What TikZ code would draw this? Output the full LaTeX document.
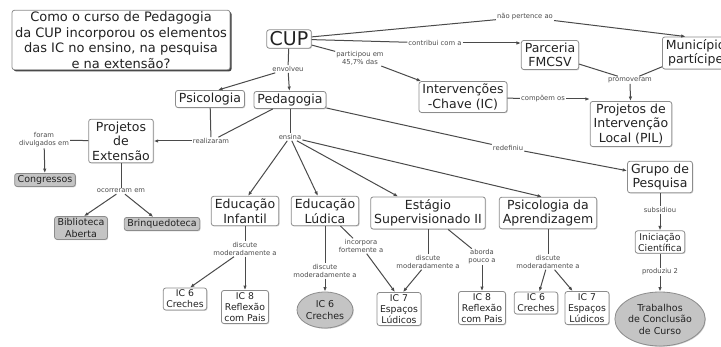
\documentclass[tikz,border=0pt]{standalone}
\usepackage{fontspec}
\setmainfont{DejaVu Sans}
\usetikzlibrary{arrows.meta,shapes.geometric,shadows}
\definecolor{bord}{HTML}{8C8C8C}
\definecolor{txt}{HTML}{222222}
\definecolor{lnc}{HTML}{4A4A4A}
\definecolor{gfill}{HTML}{C4C4C4}
\tikzset{
  base/.style={draw=bord, line width=0.8pt, rounded corners=2.5pt, fill=white, align=center, text=txt,
    drop shadow={shadow xshift=0.8pt, shadow yshift=-0.8pt, fill=black!30, opacity=0.6}},
  box/.style={base, font=\fontsize{12.5}{14.5}\selectfont, inner xsep=3.5pt, inner ysep=2.5pt},
  qbox/.style={base, font=\fontsize{13}{15.5}\selectfont, inner xsep=3pt, inner ysep=1.5pt,
    drop shadow={shadow xshift=1.6pt, shadow yshift=-1.6pt, fill=black!75, opacity=1}},
  cupbox/.style={base, font=\fontsize{19}{21}\selectfont, inner xsep=3pt, inner ysep=2pt},
  sbox/.style={base, font=\fontsize{9.3}{11}\selectfont, inner xsep=3pt, inner ysep=2pt},
  gbox/.style={sbox, fill=gfill, font=\fontsize{9.5}{11.5}\selectfont},
  gell/.style={draw=bord, line width=0.8pt, fill=gfill, ellipse, align=center, text=txt, inner sep=0pt,
    font=\fontsize{9.5}{11.5}\selectfont,
    drop shadow={shadow xshift=0.8pt, shadow yshift=-0.8pt, fill=black!30, opacity=0.6}},
  lab/.style={font=\fontsize{6.8}{7.8}\selectfont, text=black!70, fill=white, inner sep=1pt, align=center},
  ln/.style={draw=lnc, line width=1pt},
  arr/.style={ln, -{Latex[length=4.5pt,width=3.5pt]}},
}
\begin{document}
\begin{tikzpicture}[x=1pt,y=-1pt]
\useasboundingbox (0,0) rectangle (721,347);
% nodes
\node[qbox] (q) at (121,40) {Como o curso de Pedagogia\\da CUP incorporou os elementos\\das IC no ensino, na pesquisa\\e na extensão?};
\node[cupbox] (cup) at (289,39) {CUP};
\node[box] (psi) at (210,99) {Psicologia};
\node[box] (ped) at (290,100) {Pedagogia};
\node[box] (ic) at (463,97) {Intervenções\\-Chave (IC)};
\node[box] (fmc) at (550,55) {Parceria\\FMCSV};
\node[box, anchor=west] (mun) at (662,53) {Município\\partícipe};
\node[box] (pil) at (631,124) {Projetos de\\Intervenção\\Local (PIL)};
\node[box] (pe) at (121,141) {Projetos\\de\\Extensão};
\node[gbox] (cong) at (45,180) {Congressos};
\node[gbox] (bib) at (81,228) {Biblioteca\\Aberta};
\node[gbox] (brq) at (162,224) {Brinquedoteca};
\node[box] (gp) at (660,177) {Grupo de\\Pesquisa};
\node[sbox] (inic) at (660,242) {Iniciação\\Científica};
\node[gell, minimum width=90pt, minimum height=54pt] (tcc) at (660,319) {Trabalhos\\de Conclusão\\de Curso};
\node[box] (ei) at (245,211) {Educação\\Infantil};
\node[box] (el) at (325,211) {Educação\\Lúdica};
\node[box] (es) at (428,213) {Estágio\\Supervisionado II};
\node[box] (pa) at (548,213) {Psicologia da\\Aprendizagem};
\node[sbox] (a1) at (185,299) {IC 6\\Creches};
\node[sbox] (a2) at (245,307) {IC 8\\Reflexão\\com Pais};
\node[gell, minimum width=56pt, minimum height=36pt] (b1) at (325,310) {IC 6\\Creches};
\node[sbox] (c1) at (399,309) {IC 7\\Espaços\\Lúdicos};
\node[sbox] (c2) at (482,308) {IC 8\\Reflexão\\com Pais};
\node[sbox] (d1) at (536,303) {IC 6\\Creches};
\node[sbox] (d2) at (587,308) {IC 7\\Espaços\\Lúdicos};
% labels
\node[lab] (l1) at (525,17) {não pertence ao};
\node[lab] (l2) at (435,43) {contribui com a};
\node[lab] (l3) at (360,58) {participou em\\45,7\% das};
\node[lab] (l4) at (288,69) {envolveu};
\node[lab] (l5) at (630,80) {promoveram};
\node[lab] (l6) at (543,99) {compõem os};
\node[lab] (l7) at (211,141) {realizaram};
\node[lab] (l8) at (290,137) {ensina};
\node[lab] (l9) at (508,148) {redefiniu};
\node[lab] (l10) at (44,140) {foram\\divulgados em};
\node[lab] (l11) at (121,191) {ocorreram em};
\node[lab] (l12) at (660,210) {subsidiou};
\node[lab] (l13) at (660,272) {produziu 2};
\node[lab] (l14) at (245,249) {discute\\moderadamente a};
\node[lab] (l15) at (325,271) {discute\\moderadamente a};
\node[lab] (l16) at (361,246) {incorpora\\fortemente a};
\node[lab] (l17) at (428,262) {discute\\moderadamente a};
\node[lab] (l18) at (482,257) {aborda\\pouco a};
\node[lab] (l19) at (548,262) {discute\\moderadamente a};
% connectors
\draw[ln] (cup) -- (l1);
\draw[arr] (l1) -- ([xshift=-10pt]mun.north);
\draw[ln] (cup) -- (l2);
\draw[arr] (l2) -- (fmc.west |- l2);
\draw[ln] (cup) -- (l3);
\draw[arr] (l3) -- (ic);
\draw[ln] (cup) -- (l4);
\draw[arr] (l4) -- (ped);
\draw[arr] (l4) -- ([xshift=8pt]psi.north);
\draw[ln] (fmc) -- (l5);
\draw[ln] (mun) -- (l5);
\draw[arr] (l5) -- (pil);
\draw[ln] (ic) -- (l6);
\draw[arr] (l6) -- (pil.west |- l6);
\draw[ln] (psi) -- (l7);
\draw[ln] (ped) -- (l7);
\draw[arr] (l7) -- (pe);
\draw[ln] (ped) -- (l8);
\draw[arr] (l8) -- ([xshift=3pt]ei.north);
\draw[arr] (l8) -- (el);
\draw[arr] (l8) -- (es);
\draw[arr] (l8) -- ([xshift=-6pt]pa.north);
\draw[ln] (ped) -- (l9);
\draw[arr] (l9) -- (gp);
\draw[ln] (pe) -- (l10);
\draw[arr] (l10) -- (cong);
\draw[ln] (pe) -- (l11);
\draw[arr] (l11) -- ([xshift=3pt]bib.north);
\draw[arr] (l11) -- (brq);
\draw[ln] (gp) -- (l12);
\draw[arr] (l12) -- (inic);
\draw[ln] (inic) -- (l13);
\draw[arr] (l13) -- (tcc);
\draw[ln] (ei) -- (l14);
\draw[arr] (l14) -- ([xshift=5pt]a1.north);
\draw[arr] (l14) -- (a2);
\draw[ln] (el) -- (l15);
\draw[arr] (l15) -- (b1);
\draw[ln] (el) -- (l16);
\draw[arr] (l16) -- ([xshift=-4pt]c1.north);
\draw[ln] (es) -- (l17);
\draw[arr] (l17) -- ([xshift=4pt]c1.north);
\draw[ln] (es) -- (l18);
\draw[arr] (l18) -- (c2);
\draw[ln] (pa) -- (l19);
\draw[arr] (l19) -- (d1);
\draw[arr] (l19) -- (d2);
\end{tikzpicture}
\end{document}
